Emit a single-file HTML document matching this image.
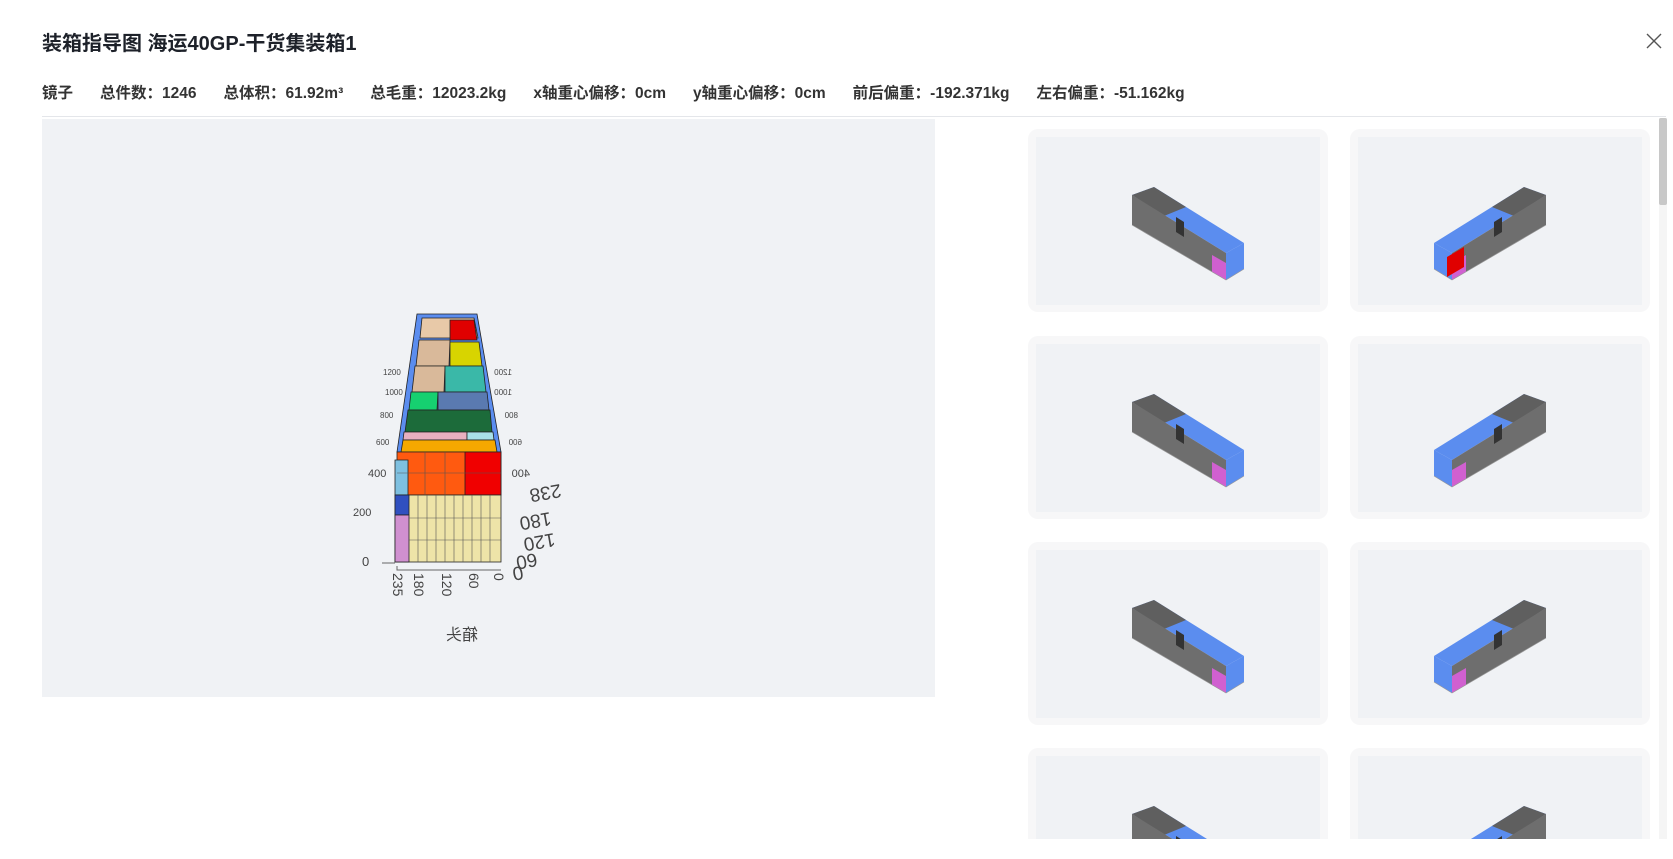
<!DOCTYPE html>
<html><head><meta charset="utf-8">
<style>
*{margin:0;padding:0;box-sizing:border-box}
html,body{overflow:hidden}
body{width:1673px;height:859px;background:#fff;position:relative;overflow:hidden;font-family:"Liberation Sans","Noto Sans CJK SC",sans-serif;color:#1f2329}
.title{position:absolute;left:42px;top:27px;font-size:20px;font-weight:bold;color:#1d2129}
.close{position:absolute;left:1645px;top:32px;width:18px;height:18px}
.stats{position:absolute;left:42px;top:81px;font-size:15.5px;font-weight:bold;color:#333;white-space:nowrap}
.stats span{margin-right:27px}
.div{position:absolute;left:42px;top:116px;width:1624px;height:1px;background:#e4e6ea}
.main{position:absolute;left:42px;top:119px;width:893px;height:578px;background:#f0f2f5}
.sb{position:absolute;left:1659px;top:118px;width:8px;height:721px;background:#f5f5f5}
.sbt{position:absolute;left:1659px;top:118px;width:8px;height:87px;background:#c8c8c8;border-radius:2px}
.card{position:absolute;width:300px;height:183px;background:#f7f7f8;border-radius:10px}
.inner{position:absolute;left:8px;top:8px;width:284px;height:168px;background:#f0f2f5}
.clip{position:absolute;left:0;top:0;width:1673px;height:839px;overflow:hidden}
</style></head><body>
<div class="title">装箱指导图 海运40GP-干货集装箱1</div>
<svg class="close" viewBox="0 0 18 18"><path d="M2 2L16 16M16 2L2 16" stroke="#555" stroke-width="1.4"/></svg>
<div class="stats"><span>镜子</span><span>总件数：1246</span><span>总体积：61.92m³</span><span>总毛重：12023.2kg</span><span>x轴重心偏移：0cm</span><span>y轴重心偏移：0cm</span><span>前后偏重：-192.371kg</span><span>左右偏重：-51.162kg</span></div>
<div class="div"></div>
<div class="main"></div>
<svg style="position:absolute;left:0;top:0" width="940" height="700">
<g stroke="#222" stroke-width="0.8">
<polygon points="417,314 477,314 501,452 397,452" fill="#5b8def"/>
<polygon points="422,318 474,318 478,338 420,338" fill="#e8c9a8"/>
<polygon points="450,320 474,320 477,340 450,340" fill="#e00000"/>
<polygon points="419,340 450,340 449,366 416,366" fill="#d9b99a"/>
<polygon points="450,342 479,342 482,366 450,366" fill="#d8d400"/>
<polygon points="415,366 445,366 444,392 412,392" fill="#d9b99a"/>
<polygon points="445,366 483,366 486,392 445,392" fill="#3ab8a8"/>
<polygon points="411,392 438,392 437,410 409,410" fill="#16d070"/>
<polygon points="438,392 487,392 489,410 438,410" fill="#5a7ab0"/>
<polygon points="408,410 490,410 492,432 405,432" fill="#1c6b3a"/>
<polygon points="404,432 467,432 467,440 403,440" fill="#e8b0c0"/>
<polygon points="467,432 493,432 494,440 467,440" fill="#a8e0e8"/>
<polygon points="403,440 495,440 497,452 401,452" fill="#f5a800"/>
<polygon points="397,452 501,452 501,495 397,495" fill="#ff5a10"/>
<polygon points="465,452 501,452 501,495 465,495" fill="#f00000"/>
<polygon points="395,460 408,460 408,495 395,495" fill="#7ec0e0"/>
<rect x="395" y="495" width="106" height="67" fill="#eee4a8"/>
<rect x="395" y="495" width="14" height="20" fill="#3050c0"/>
<rect x="395" y="515" width="14" height="47" fill="#d090d0"/>
<g fill="none" stroke="#555" stroke-width="0.6">
<path d="M418 495V562M427 495V562M436 495V562M445 495V562M454 495V562M463 495V562M472 495V562M481 495V562M490 495V562"/>
<path d="M409 518H501M409 540H501"/>
<path d="M425 452V495M445 452V495M397 473H501"/>
</g>
</g>
<g font-family="Liberation Sans,sans-serif" fill="#444" font-size="8">
<text x="383" y="375">1200</text><text x="385" y="395">1000</text><text x="380" y="418">800</text><text x="376" y="445">600</text>
<text x="368" y="477" font-size="11">400</text><text x="353" y="516" font-size="11">200</text><text x="362" y="566" font-size="13">0</text>
<g transform="scale(-1,1)"><text x="-512" y="375">1200</text><text x="-512" y="395">1000</text><text x="-518" y="418">800</text><text x="-522" y="445">600</text><text x="-530" y="477" font-size="11">400</text></g>
<g font-size="19">
<text transform="translate(560,484) rotate(170)">238</text>
<text transform="translate(550,512) rotate(170)">180</text>
<text transform="translate(554,533) rotate(170)">120</text>
<text transform="translate(536,553) rotate(170)">60</text>
<text transform="translate(522,566) rotate(170)">0</text>
</g>
<g font-size="14"><text transform="translate(393,573) rotate(90)">235</text><text transform="translate(414,573) rotate(90)">180</text><text transform="translate(442,573) rotate(90)">120</text><text transform="translate(469,573) rotate(90)">60</text><text transform="translate(494,573) rotate(90)">0</text></g>
<text transform="translate(478,640) scale(-1,1)" font-size="16" font-family="Liberation Sans,Noto Sans CJK SC,sans-serif">箱头</text>
</g>
<path d="M382 563H395M397 566V570H501" stroke="#666" fill="none"/>
</svg>
<div class="sb"></div><div class="sbt"></div>
<div class="clip">
<svg width="0" height="0" style="position:absolute"><defs>
<g id="tb">
<polygon points="96,58 118,50 208,106 190,116" fill="#5b8def"/>
<polygon points="96,58 118,50 150,70 128,79" fill="#5f5f5f"/>
<polygon points="96,58 190,116 190,143 96,88" fill="#6e6e6e"/>
<polygon points="190,116 208,106 208,132 190,143" fill="#5b8def"/>
<polygon points="176,118 190,126 190,143 176,135" fill="#d060d0"/>
<polygon points="140,80 148,85 148,100 140,95" fill="#333"/>
<path d="M96 88L190 143L208 132" stroke="#999" stroke-width="0.7" fill="none"/>
</g></defs></svg>
<div class="card" style="left:1028px;top:129px"><div class="inner"><svg width="284" height="168"><use href="#tb"/></svg></div></div>
<div class="card" style="left:1350px;top:129px"><div class="inner"><svg width="284" height="168"><g transform="translate(284,0) scale(-1,1)"><use href="#tb"/><polygon points="178,110 195,120 195,140 178,130" fill="#e00000"/></g></svg></div></div>
<div class="card" style="left:1028px;top:336px"><div class="inner"><svg width="284" height="168"><use href="#tb"/></svg></div></div>
<div class="card" style="left:1350px;top:336px"><div class="inner"><svg width="284" height="168"><g transform="translate(284,0) scale(-1,1)"><use href="#tb"/></g></svg></div></div>
<div class="card" style="left:1028px;top:542px"><div class="inner"><svg width="284" height="168"><use href="#tb"/></svg></div></div>
<div class="card" style="left:1350px;top:542px"><div class="inner"><svg width="284" height="168"><g transform="translate(284,0) scale(-1,1)"><use href="#tb"/></g></svg></div></div>
<div class="card" style="left:1028px;top:748px"><div class="inner"><svg width="284" height="168"><use href="#tb"/></svg></div></div>
<div class="card" style="left:1350px;top:748px"><div class="inner"><svg width="284" height="168"><g transform="translate(284,0) scale(-1,1)"><use href="#tb"/></g></svg></div></div>
</div>
</body></html>
